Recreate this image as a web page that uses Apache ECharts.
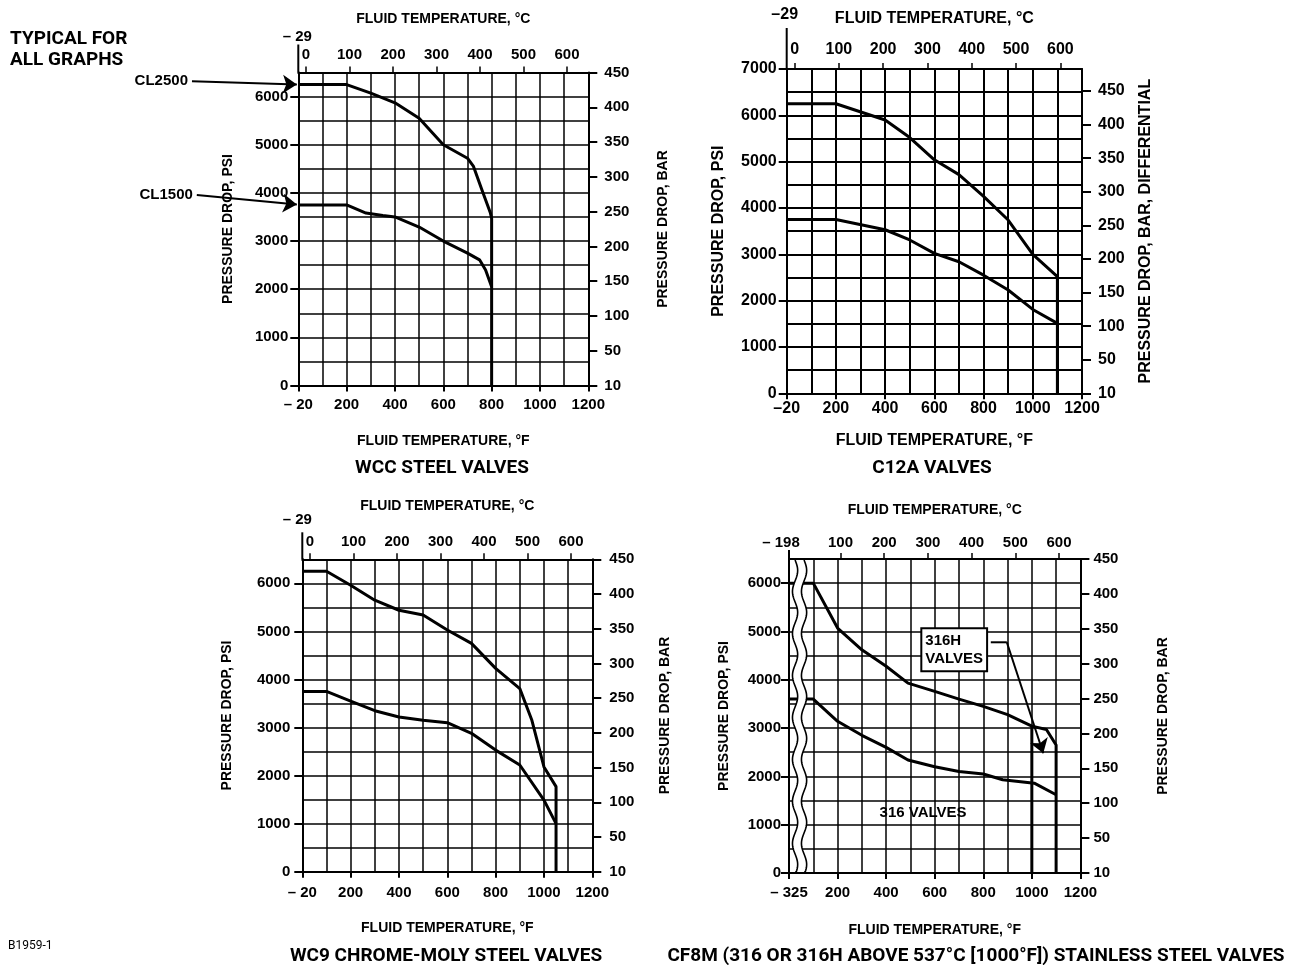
<!DOCTYPE html>
<html><head><meta charset="utf-8">
<script src="https://cdn.jsdelivr.net/npm/echarts@6/dist/echarts.min.js"></script>
<style>html,body{margin:0;padding:0;background:#fff}#c{width:1299px;height:965px}</style>
</head><body><div id="c"></div>
<script>
// ---------------- DATA ----------------
const tempTicksF = [0, 200, 400, 600, 800, 1000, 1200];
const tempTicksC = [0, 100, 200, 300, 400, 500, 600];
const tempTicksC4 = [100, 200, 300, 400, 500, 600];
const psiTicks6 = [0, 1000, 2000, 3000, 4000, 5000, 6000];
const psiTicks7 = [0, 1000, 2000, 3000, 4000, 5000, 6000, 7000];
const barTicks = [0, 50, 100, 150, 200, 250, 300, 350, 400, 450];

// WCC steel valves  [°F, psi]
const wccCL2500 = [[0,6250],[200,6250],[300,6070],[400,5870],[500,5550],[600,5000],[700,4720],[725,4550],[760,4060],[795,3580],[800,3470],[800,0]];
const wccCL1500 = [[0,3750],[200,3750],[280,3580],[350,3530],[400,3500],[500,3290],[600,3000],[700,2750],[750,2610],[775,2400],[800,2050]];
// C12A valves
const c12aCL2500 = [[0,6250],[200,6250],[400,5900],[500,5520],[600,5040],[700,4720],[800,4250],[900,3740],[1000,3000],[1100,2520],[1100,0]];
const c12aCL1500 = [[0,3750],[200,3750],[400,3530],[500,3310],[600,3020],[700,2840],[800,2550],[900,2230],[1000,1810],[1100,1510]];
// WC9 chrome-moly steel valves
const wc9CL2500 = [[0,6250],[100,6250],[200,5960],[300,5650],[400,5440],[500,5340],[600,5030],[700,4750],[800,4230],[900,3810],[950,3150],[1000,2180],[1050,1770],[1050,0]];
const wc9CL1500 = [[0,3750],[100,3750],[200,3550],[300,3350],[400,3220],[500,3150],[600,3100],[700,2880],[800,2530],[900,2220],[1000,1490],[1050,1000]];
// CF8M stainless steel valves
const cf8mUpper = [[0,6000],[100,6000],[200,5070],[300,4620],[400,4280],[490,3930],[600,3760],[700,3600],[800,3450],[900,3280],[1000,3040],[1060,2970],[1100,2650],[1100,0]];
const cf8mLower = [[0,3600],[100,3600],[200,3140],[300,2850],[400,2600],[490,2340],[600,2200],[700,2100],[800,2050],[880,1930],[1010,1860],[1100,1620]];
const cf8m316Limit = [[1000,3040],[1000,0]];
const cf8m316HLeader = [[831,4776],[897,4776]];
const cf8m316HArrow = [[897,4776],[1047,2478]];
const cf8m316HLabel = [[549,4620]];
const cf8m316Label = [[552,1250]];
const cf8mBreak = [[25, 62]];
// class arrows on WCC graph
const cl2500Arrow = [[-440,6320],[-6,6250]];
const cl1500Arrow = [[-420,3957],[-6,3760]];

// ---------------- LAYOUT ----------------
const FONT = '"Liberation Sans", Arial, sans-serif';
const TFONT = 'Roboto, "Liberation Sans", sans-serif';
const panels = [
  { grid:{left:298.3, top:72.5, width:290, height:313}, psiMax:6500, barMax:450,
    fLeft:'– 20', cLeft:'– 29', cTicks:tempTicksC, psiTicks:psiTicks6, fs:15, ns:14,
    mL:10, mR:16, mT:10, mB:12, gL:63, gR:68, gT:46, gB:49, rightName:'PRESSURE DROP, BAR',
    ext:28, cdx:-1, cdy:35.5, lw:1.5 },
  { grid:{left:786.7, top:69, width:295.3, height:324.3}, psiMax:7000, barMax:7000/14.5038,
    fLeft:'–20', cLeft:'–29', cTicks:tempTicksC, psiTicks:psiTicks7, fs:16, ns:16,
    mL:10, mR:16, mT:11, mB:7, gL:60, gR:56, gT:42, gB:39, rightName:'PRESSURE DROP, BAR, DIFFERENTIAL',
    ext:41, cdx:-2, cdy:54, lw:2 },
  { grid:{left:302.3, top:559.3, width:290, height:312.4}, psiMax:6500, barMax:450,
    fLeft:'– 20', cLeft:'– 29', cTicks:tempTicksC, psiTicks:psiTicks6, fs:15, ns:14,
    mL:12, mR:17, mT:10, mB:14, gL:68, gR:66, gT:46, gB:49, rightName:'PRESSURE DROP, BAR',
    ext:27, cdx:-5, cdy:39, lw:1.5 },
  { grid:{left:789, top:559, width:291.4, height:314}, psiMax:6500, barMax:450,
    fLeft:'– 325', cLeft:'– 198', cTicks:tempTicksC4, psiTicks:psiTicks6, fs:15, ns:14,
    mL:8, mR:13, mT:9, mB:12, gL:58, gR:76, gT:42, gB:50, rightName:'PRESSURE DROP, BAR',
    ext:9, cdx:-8, cdy:16, lw:1.5 }
];

const fToC = f => (f - 32) / 1.8;
const BLACK = '#000';
const NA = 3; // axes per direction per grid

const grids = [], xAxes = [], yAxes = [];
panels.forEach((p, i) => {
  grids.push(Object.assign({ containLabel:false, show:false }, p.grid));
  const lab = (fs, m) => ({ color:BLACK, fontFamily:FONT, fontWeight:'bold', fontSize:fs, margin:m });
  const nameStyle = { color:BLACK, fontFamily:FONT, fontWeight:'bold', fontSize:p.ns };
  const hidden = { axisLine:{ show:false }, axisTick:{ show:false }, axisLabel:{ show:false } };
  // bottom °F axis
  xAxes.push({
    type:'value', gridIndex:i, position:'bottom', min:0, max:1200, interval:100,
    axisLine:{ show:true, onZero:false, lineStyle:{ color:BLACK, width:2 } },
    axisTick:{ show:true, customValues:tempTicksF, length:6, lineStyle:{ color:BLACK, width:2 } },
    axisLabel:Object.assign(lab(p.fs, p.mB), { customValues:tempTicksF, formatter: v => v === 0 ? p.fLeft : String(v) }),
    splitLine:{ show:false },
    name:'FLUID TEMPERATURE, °F', nameLocation:'middle', nameGap:p.gB, nameTextStyle:nameStyle
  });
  // top °C axis
  xAxes.push({
    type:'value', gridIndex:i, position:'top', min:fToC(0), max:fToC(1200),
    axisLine:{ show:true, onZero:false, lineStyle:{ color:BLACK, width:2 } },
    axisTick:{ show:true, customValues:p.cTicks, length:6, lineStyle:{ color:BLACK, width:1.5 } },
    axisLabel:Object.assign(lab(p.fs, p.mT), { customValues:p.cTicks }),
    splitLine:{ show:false },
    name:'FLUID TEMPERATURE, °C', nameLocation:'middle', nameGap:p.gT, nameTextStyle:nameStyle
  });
  // grid-line helper (every 100 °F)
  xAxes.push(Object.assign({
    type:'value', gridIndex:i, min:0, max:1200, interval:100, offset:0,
    splitLine:{ show:true, lineStyle:{ color:BLACK, width:p.lw } }
  }, hidden));
  // left psi axis
  yAxes.push({
    type:'value', gridIndex:i, position:'left', min:0, max:p.psiMax, interval:500,
    axisLine:{ show:true, onZero:false, lineStyle:{ color:BLACK, width:2 } },
    axisTick:{ show:true, customValues:p.psiTicks, length:8, lineStyle:{ color:BLACK, width:2 } },
    axisLabel:Object.assign(lab(p.fs, p.mL), { customValues:p.psiTicks, formatter: v => String(v) }),
    splitLine:{ show:false },
    name:'PRESSURE DROP, PSI', nameLocation:'middle', nameGap:p.gL, nameRotate:90, nameTextStyle:nameStyle
  });
  // right bar axis
  yAxes.push({
    type:'value', gridIndex:i, position:'right', min:0, max:p.barMax, interval:50,
    axisLine:{ show:true, onZero:false, lineStyle:{ color:BLACK, width:2 } },
    axisTick:{ show:true, customValues:barTicks, length:9, lineStyle:{ color:BLACK, width:2 } },
    axisLabel:Object.assign(lab(p.fs, p.mR), { customValues:barTicks, formatter: v => v === 0 ? '10' : String(v) }),
    splitLine:{ show:false },
    name:p.rightName, nameLocation:'middle', nameGap:p.gR, nameRotate:90, nameTextStyle:nameStyle
  });
  // grid-line helper (every 500 psi)
  yAxes.push(Object.assign({
    type:'value', gridIndex:i, min:0, max:p.psiMax, interval:500, offset:0,
    splitLine:{ show:true, lineStyle:{ color:BLACK, width:p.lw } }
  }, hidden));
});

const curve = (i, data, w) => ({
  type:'line', xAxisIndex:i*NA, yAxisIndex:i*NA, data, showSymbol:false, symbol:'none', silent:true,
  lineStyle:{ color:BLACK, width:w || 3 }, z:3, animation:false
});

const arrowLine = (i, coords, text) => ({
  type:'lines', coordinateSystem:'cartesian2d', xAxisIndex:i*NA, yAxisIndex:i*NA, clip:false,
  silent:true, z:6, symbol:['none','arrow'], symbolSize:14,
  lineStyle:{ color:BLACK, width:2, opacity:1, curveness:0 },
  label: text ? { show:true, position:'start', distance:4, formatter:text, color:BLACK, fontFamily:FONT, fontWeight:'bold', fontSize:15 } : { show:false },
  data:[{ coords }]
});

const series = [
  curve(0, wccCL2500), curve(0, wccCL1500),
  curve(1, c12aCL2500), curve(1, c12aCL1500),
  curve(2, wc9CL2500), curve(2, wc9CL1500),
  curve(3, cf8mUpper), curve(3, cf8mLower), curve(3, cf8m316Limit),
  curve(3, cf8m316HLeader, 2),
  arrowLine(0, cl2500Arrow, 'CL2500'),
  arrowLine(0, cl1500Arrow, 'CL1500'),
  arrowLine(3, cf8m316HArrow, null),
  { type:'scatter', xAxisIndex:3*NA, yAxisIndex:3*NA, data:cf8m316HLabel, symbolSize:0, silent:true, z:7, clip:false,
    itemStyle:{ opacity:1 },
    label:{ show:true, position:'right', distance:0, formatter:'316H\nVALVES', align:'left', verticalAlign:'middle',
      color:BLACK, fontFamily:FONT, fontWeight:'bold', fontSize:15, lineHeight:18,
      backgroundColor:'#fff', borderColor:BLACK, borderWidth:2, padding:[3,3,2,3] } },
  { type:'scatter', xAxisIndex:3*NA, yAxisIndex:3*NA, data:cf8m316Label, symbolSize:0, silent:true, z:7,
    itemStyle:{ opacity:1 },
    label:{ show:true, position:'inside', formatter:'316 VALVES', color:BLACK, fontFamily:FONT, fontWeight:'bold', fontSize:15 } },
  { type:'custom', xAxisIndex:3*NA, yAxisIndex:3*NA, data:cf8mBreak, silent:true, z:8, clip:false,
    renderItem:(params, api) => {
      const xl = api.coord([api.value(0), 0])[0];
      const xr = api.coord([api.value(1), 0])[0];
      const yb = api.coord([0, 0])[1] - 1;
      const yt = api.coord([0, 6500])[1] + 1;
      const wave = (xc) => { const pts = []; for (let y = yt; y <= yb; y += 1.5) pts.push([xc + 2.6*Math.sin((y - yt) / 42 * 2 * Math.PI), y]); pts.push([xc, yb]); return pts; };
      const L = wave(xl), R = wave(xr);
      return { type:'group', children:[
        { type:'polygon', shape:{ points:L.concat(R.slice().reverse()) }, style:{ fill:'#fff', stroke:null } },
        { type:'polyline', shape:{ points:L }, style:{ stroke:BLACK, lineWidth:1.6, fill:null } },
        { type:'polyline', shape:{ points:R }, style:{ stroke:BLACK, lineWidth:1.6, fill:null } }
      ]};
    } }
];

const titleStyle = (fs) => ({ color:BLACK, fontFamily:TFONT, fontWeight:'bold', fontSize:fs });
const option = {
  backgroundColor:'#fff',
  animation:false,
  title:[
    { text:'TYPICAL FOR\nALL GRAPHS', left:5, top:24, textStyle:Object.assign(titleStyle(19), { lineHeight:21 }) },
    { text:'WCC STEEL VALVES', left:437, top:454, textAlign:'center', textStyle:titleStyle(19) },
    { text:'C12A VALVES', left:927, top:454, textAlign:'center', textStyle:titleStyle(19) },
    { text:'WC9 CHROME-MOLY STEEL VALVES', left:441, top:942, textAlign:'center', textStyle:titleStyle(19) },
    { text:'CF8M (316 OR 316H ABOVE 537°C [1000°F]) STAINLESS STEEL VALVES', left:971, top:942, textAlign:'center', textStyle:titleStyle(19) },
    { text:'B1959-1', left:3, top:935, textStyle:{ color:BLACK, fontFamily:TFONT, fontSize:12, fontWeight:'normal' } }
  ],
  grid:grids, xAxis:xAxes, yAxis:yAxes, series
};

const chart = echarts.init(document.getElementById('c'), null, { renderer:'canvas' });
chart.setOption(option);

// axis extension above the plot and the low-end °C label
const g = [];
panels.forEach((p, i) => {
  const pt = chart.convertToPixel({ xAxisIndex:i*NA, yAxisIndex:i*NA }, [0, p.psiMax]);
  g.push({ type:'line', shape:{ x1:pt[0], y1:pt[1], x2:pt[0], y2:pt[1] - p.ext }, style:{ stroke:BLACK, lineWidth:2 }, silent:true });
  g.push({ type:'text', x:pt[0] + p.cdx, y:pt[1] - p.cdy, silent:true,
    style:{ text:p.cLeft, fill:BLACK, font:'bold ' + p.fs + 'px ' + FONT, textAlign:'center', textVerticalAlign:'middle' } });
});
chart.setOption({ graphic:g });
</script></body></html>
